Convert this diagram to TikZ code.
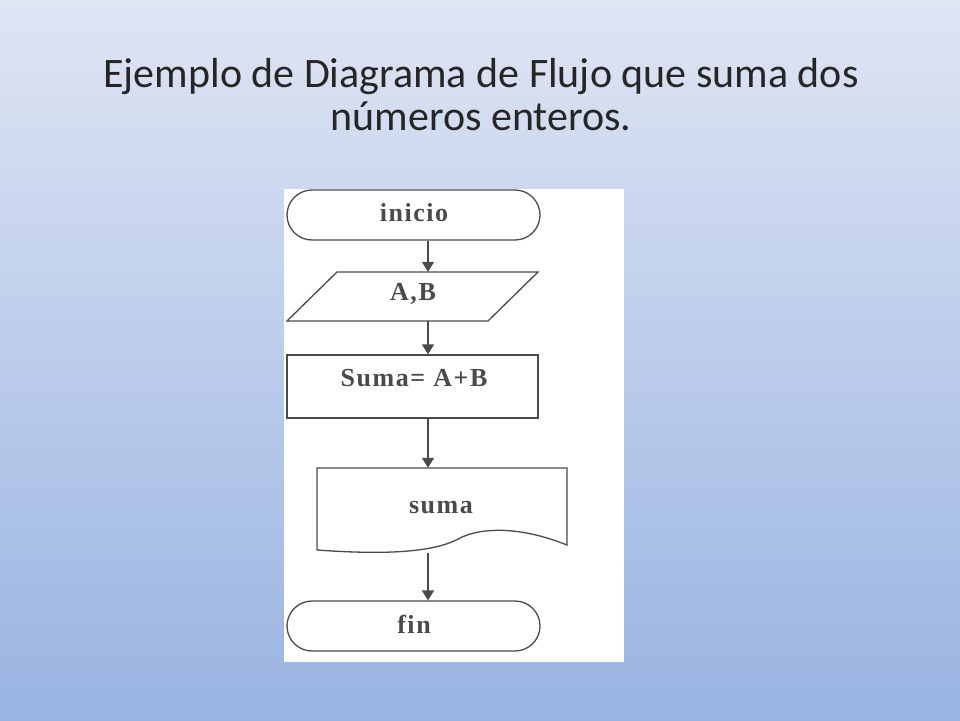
\documentclass[tikz,border=0pt]{standalone}
\usepackage{fontspec}
\setmainfont{Carlito}
\newfontfamily\tnr[LetterSpace=6]{Liberation Serif}
\usetikzlibrary{shapes.misc,arrows.meta}
\definecolor{bgtop}{HTML}{DFE5F3}
\definecolor{bgbot}{HTML}{98B3E2}
\definecolor{ln}{HTML}{4A4A4A}
\tikzset{
  term/.style={rounded rectangle,draw=ln,line width=1.3pt,minimum width=253pt,minimum height=50pt,inner sep=0pt},
  lbl/.style={font=\tnr\bfseries\fontsize{26}{28}\selectfont,text=ln},
  flow/.style={draw=ln,line width=1.4pt,-{Triangle[width=12pt,length=10pt]}},
  shp/.style={draw=ln,line width=1.3pt}
}
\begin{document}
\begin{tikzpicture}[x=1pt,y=-1pt]
\useasboundingbox (0,0) rectangle (960,720);
\shade[top color=bgtop,bottom color=bgbot] (0,0) rectangle (960,720);
\node[font=\fontsize{42}{43}\selectfont,text=black!85,align=center] (title) at (481,95) {Ejemplo de Diagrama de Flujo que suma dos\\números enteros.};
\fill[white] (284,189) rectangle (624,662);
\coordinate (ax) at (428,0);
% inicio
\node[term] (ini) at (413.5,215) {};
\node[lbl] (tini) at (414,213) {inicio};
% parallelogram
\draw[shp] (337,272) -- (538,272) -- (488,321) -- (287,321) -- cycle;
\node[minimum width=200pt,minimum height=49pt,inner sep=0pt] (ab) at (412.5,296.5) {};
\node[lbl] (tab) at (413,294) {A,B};
% process
\node[shp,minimum width=251pt,minimum height=63pt,inner sep=0pt] (sum) at (412.5,386.5) {};
\node[lbl] (tsum) at (414,378) {Suma= A+B};
% document
\draw[shp] (317,468) -- (567,468) -- (567,545) .. controls (530,530) and (490,525) .. (462,537) .. controls (440,550) and (400,556) .. (317,550) -- cycle;
\node[minimum width=250pt,minimum height=85pt,inner sep=0pt] (doc) at (442,510.5) {};
\node[lbl] (tdoc) at (441,508) {suma};
% fin
\node[term] (fin) at (413.5,626) {};
\node[lbl] (tfin) at (414,624) {fin};
% arrows
\draw[flow] (ini.south -| ax) -- (ab.north -| ax);
\draw[flow] (ab.south -| ax) -- (sum.north -| ax);
\draw[flow] (sum.south -| ax) -- (doc.north -| ax);
\draw[flow] (doc.south -| ax) -- (fin.north -| ax);
\end{tikzpicture}
\end{document}
